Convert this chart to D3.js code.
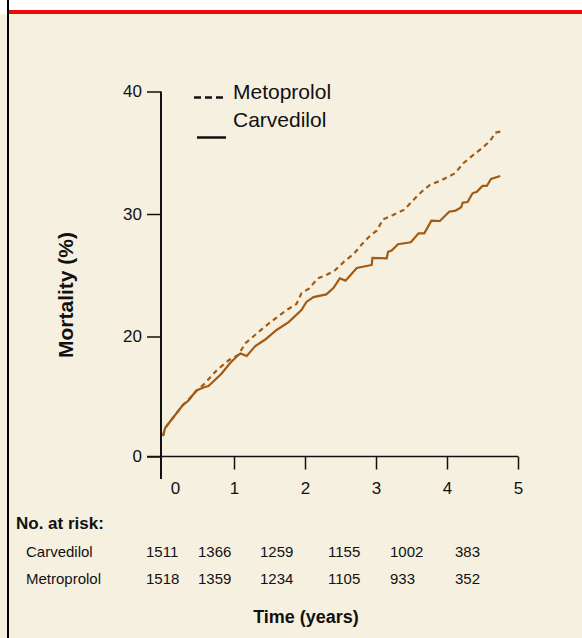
<!DOCTYPE html>
<html lang="en">
<head>
<meta charset="UTF-8">
<title>Mortality</title>
<style>
  body { margin: 0; background: #fff; }
  text { font-family: "Liberation Sans", Arial, Helvetica, sans-serif; fill: #111; }
</style>
</head>
<body>
<svg id="svg" width="582" height="638"></svg>
<script src="https://d3js.org/d3.v7.min.js"></script>
<script>
// ------ DATA ------------------------
// [time in years, mortality %]
const carvedilol = [
  [0, 3.42], [0.03, 4.75], [0.10, 5.83], [0.28, 8.58], [0.36, 9.33], [0.47, 11.0],
  [0.59, 11.58], [0.64, 11.75], [0.82, 13.75], [0.94, 15.5], [1.06, 16.92], [1.09, 17.17],
  [1.18, 16.75], [1.30, 18.42], [1.44, 19.5], [1.60, 20.53], [1.77, 21.18], [1.95, 22.16],
  [2.02, 22.82], [2.12, 23.22], [2.30, 23.44], [2.40, 23.96], [2.49, 24.75], [2.57, 24.56],
  [2.73, 25.59], [2.94, 25.84], [2.95, 26.41], [3.15, 26.38], [3.17, 26.92], [3.22, 27.02],
  [3.31, 27.53], [3.49, 27.69], [3.60, 28.42], [3.68, 28.42], [3.78, 29.45], [3.90, 29.43],
  [4.03, 30.19], [4.12, 30.27], [4.20, 30.55], [4.22, 30.92], [4.29, 30.98], [4.36, 31.69],
  [4.42, 31.82], [4.50, 32.29], [4.56, 32.29], [4.62, 32.86], [4.75, 33.10]
]
const metoprolol = [
  [0, 3.42], [0.03, 4.75], [0.10, 5.83], [0.28, 8.58], [0.38, 9.75], [0.47, 10.92],
  [0.59, 12.2], [0.76, 14.42], [0.92, 16.0], [1.06, 16.92], [1.16, 18.87], [1.32, 20.24],
  [1.48, 21.02], [1.74, 22.16], [1.88, 22.65], [1.95, 23.53], [2.06, 23.93], [2.18, 24.75],
  [2.30, 25.02], [2.42, 25.39], [2.55, 26.11], [2.69, 26.76], [2.81, 27.59], [2.92, 28.24],
  [3.01, 28.64], [3.10, 29.57], [3.24, 29.92], [3.39, 30.33], [3.46, 30.73], [3.55, 31.28],
  [3.67, 31.96], [3.76, 32.37], [3.93, 32.78], [4.11, 33.32], [4.23, 34.14], [4.35, 34.73],
  [4.49, 35.36], [4.61, 35.98], [4.68, 36.64], [4.76, 36.73]
]
const yTicks = [0, 20, 30, 40]
const xTicks = [0, 1, 2, 3, 4, 5]
const riskGroups = ['Carvedilol', 'Metroprolol']
const riskCarvedilol = [1511, 1366, 1259, 1155, 1002, 383]
const riskMetoprolol = [1518, 1359, 1234, 1105, 933, 352]

// CONSTANTS
const brown = '#a35a12'
const svg = d3.select('#svg')

// ------ FRAME ------------------------
svg.append('rect').attr('x', 0).attr('y', 14).attr('width', 582).attr('height', 624).attr('fill', '#f6f0e0')
svg.append('rect').attr('x', 8).attr('y', 10).attr('width', 574).attr('height', 4).attr('fill', '#ee0a0a')
svg.append('rect').attr('x', 7).attr('y', 0).attr('width', 2).attr('height', 638).attr('fill', '#000')

// ------ SCALES ------------------------
const x = d3.scaleLinear().domain([0, 5]).range([163, 518])
// y axis is compressed below 20 %
const y = d3.scaleLinear().domain([0, 20, 40]).range([456.5, 336.5, 91.5])

// ------ AXES ------------------------
const leftAxis = d3.axisLeft(y).tickValues(yTicks).tickSize(14).tickSizeOuter(0).tickPadding(5)
const gy = svg.append('g').attr('transform', 'translate(161,0)').call(leftAxis)
gy.select('.domain').remove()
gy.selectAll('line').attr('stroke', '#111').attr('stroke-width', 1.5)
gy.selectAll('text').attr('font-size', 17).attr('font-family', null)
svg.append('line').attr('x1', 161).attr('x2', 161).attr('y1', y(40)).attr('y2', 479)
  .attr('stroke', '#111').attr('stroke-width', 2)

const bottomAxis = d3.axisBottom(x).tickValues(xTicks).tickSize(13).tickSizeOuter(0).tickFormat(d3.format('d'))
const gx = svg.append('g').attr('transform', `translate(0,${y(0)})`).call(bottomAxis)
gx.select('.domain').remove()
gx.selectAll('line').attr('stroke', '#111').attr('stroke-width', 1.5)
gx.selectAll('.tick').filter(d => d === 0).select('line').remove()
gx.selectAll('text').attr('font-size', 17).attr('font-family', null).attr('y', 37.5).attr('dy', 0)
  .attr('x', d => d === 0 ? 12 : 0)
svg.append('line').attr('x1', 147).attr('x2', x(5)).attr('y1', y(0)).attr('y2', y(0))
  .attr('stroke', '#111').attr('stroke-width', 1.5)

// axis titles
svg.append('text').attr('transform', 'translate(73,295) rotate(-90)')
  .attr('text-anchor', 'middle').attr('font-size', 21).attr('font-weight', 'bold').text('Mortality (%)')
svg.append('text').attr('x', 306).attr('y', 623)
  .attr('text-anchor', 'middle').attr('font-size', 18).attr('font-weight', 'bold').text('Time (years)')

// ------ LINES ------------------------
const line = d3.line().x(d => x(d[0])).y(d => y(d[1]))
svg.append('path').datum(metoprolol).attr('d', line)
  .attr('fill', 'none').attr('stroke', brown).attr('stroke-width', 2.2).attr('stroke-dasharray', '5,4')
svg.append('path').datum(carvedilol).attr('d', line)
  .attr('fill', 'none').attr('stroke', brown).attr('stroke-width', 2.2)

// ------ LEGEND ------------------------
svg.append('line').attr('x1', 194).attr('x2', 224).attr('y1', 97.5).attr('y2', 97.5)
  .attr('stroke', '#111').attr('stroke-width', 2.5).attr('stroke-dasharray', '7,4')
svg.append('line').attr('x1', 197).attr('x2', 226).attr('y1', 137.5).attr('y2', 137.5)
  .attr('stroke', '#111').attr('stroke-width', 2.5)
svg.append('text').attr('x', 233).attr('y', 98.5).attr('font-size', 21).text('Metoprolol')
svg.append('text').attr('x', 233).attr('y', 126.5).attr('font-size', 21).text('Carvedilol')

// ------ NUMBER AT RISK ------------------------
svg.append('text').attr('x', 16).attr('y', 529).attr('font-size', 17).attr('font-weight', 'bold').text('No. at risk:')
const colX = [146, 198, 260, 328, 390, 455]
const rows = [riskCarvedilol, riskMetoprolol]
rows.forEach((vals, i) => {
  const rowY = 557 + i * 26.5
  svg.append('text').attr('x', 26).attr('y', rowY).attr('font-size', 15).text(riskGroups[i])
  svg.append('g').selectAll('text').data(vals).enter().append('text')
    .attr('x', (d, j) => colX[j]).attr('y', rowY).attr('font-size', 15).text(d => d)
})
</script>
</body>
</html>
